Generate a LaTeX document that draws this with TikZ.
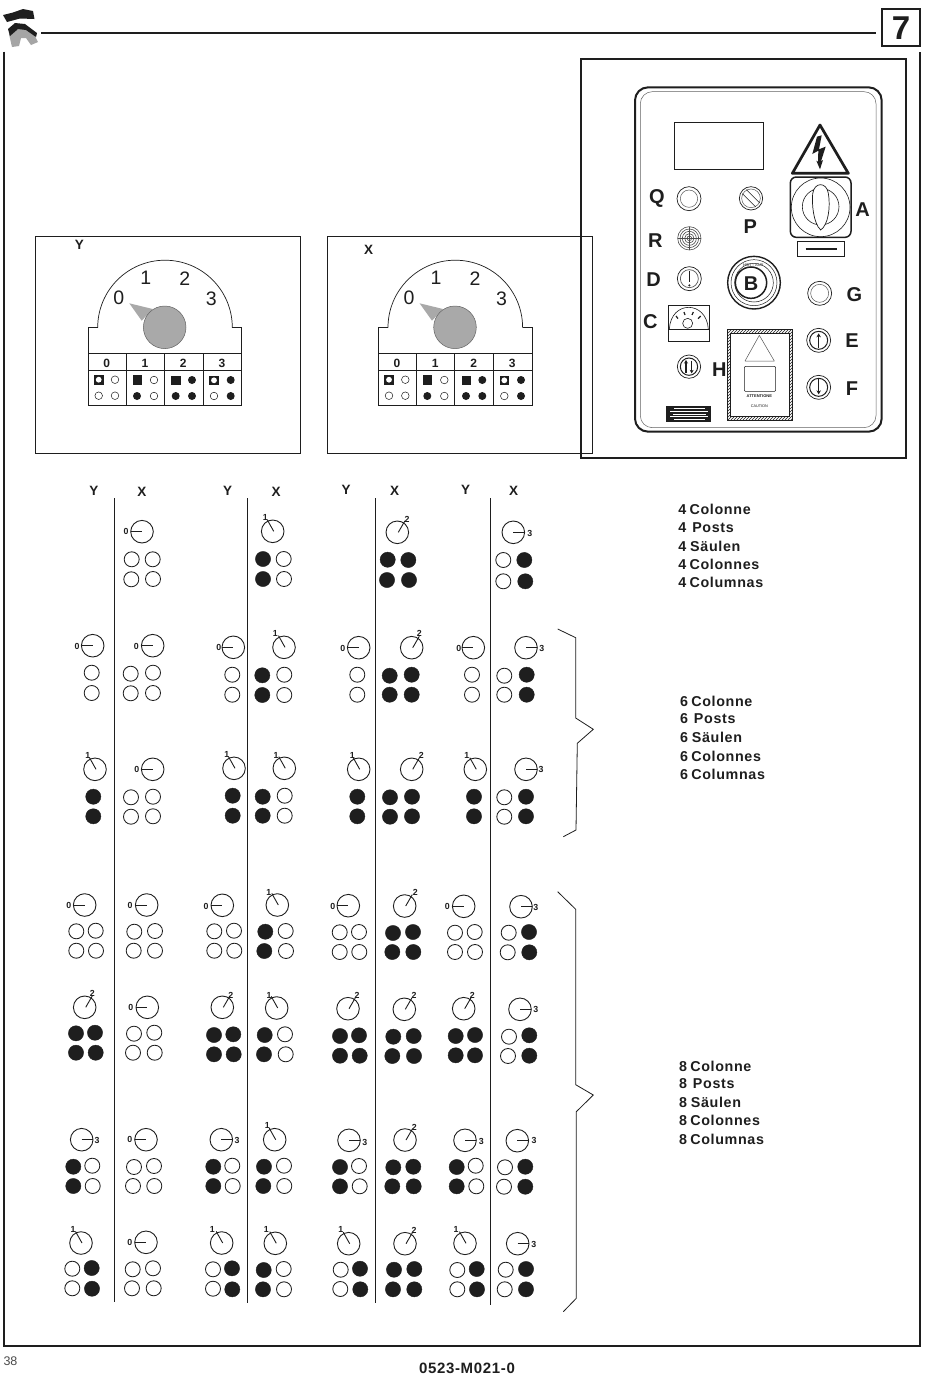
\documentclass[tikz,border=0pt]{standalone}
\usepackage{fontspec}
\setmainfont{Liberation Sans}
\newfontfamily\tracked[LetterSpace=4.5]{Liberation Sans}
\usetikzlibrary{patterns,arrows.meta}
\definecolor{ink}{HTML}{1E1E1E}
\definecolor{knobgray}{HTML}{A9A9A9}
\newcounter{nn}
\newcommand{\fs}[1]{\fontsize{#1}{#1}\selectfont}
\tikzset{
  x=1pt,y=-1pt,
  every node/.style={inner sep=0pt,outer sep=0pt,text=ink,anchor=center},
  thinline/.style={draw=ink,line width=0.9pt},
  heavy/.style={draw=ink,line width=2pt},
  opencirc/.style={draw=ink,line width=0.85pt,fill=white},
  fullcirc/.style={draw=ink,line width=0.4pt,fill=ink},
  dialring/.style={draw=ink,line width=0.9pt,fill=white},
  dialhand/.style={draw=ink,line width=0.9pt},
  dialnum/.style={font=\fs{8.8}\bfseries},
  head/.style={font=\fs{13.5}\bfseries},
  keyletter/.style={font=\fs{20}\bfseries,yshift=-0.8pt},
  langtext/.style={anchor=west,font=\tracked\fs{14.3}\bfseries},
  btnout/.style={draw=ink,line width=0.7pt,fill=white},
  btnin/.style={draw=ink!75,line width=0.5pt},
  brace/.style={draw=ink,line width=0.8pt,line join=miter},
  divider/.style={draw=ink,line width=1.2pt},
  bigdigit/.style={font=\fs{19.5}},
  tabdigit/.style={font=\fs{12}\bfseries},
}
% circles
\newcommand{\cfull}[2]{\fill[fullcirc] (#1,#2) circle (7.6pt);}
\newcommand{\cempty}[2]{\draw[opencirc] (#1,#2) circle (7.5pt);}
% dial: cx cy position lx ly
\newcommand{\dialm}[5]{%
  \draw[dialring] (#1,#2) circle (11.3pt);
  \ifcase#3\relax
    \draw[dialhand] ([xshift=-11.3pt]#1,#2) -- ++(11.3,0);
  \or
    \draw[dialhand] ([xshift=1pt]#1,#2) -- ++(-6.5,-11.6);
  \or
    \draw[dialhand] ([xshift=1pt]#1,#2) -- ++(6.6,-11.4);
  \or
    \draw[dialhand] (#1,#2) -- ++(11.3,0);
  \fi
  \stepcounter{nn}\node[dialnum] (d\thenn) at (#4,#5) {#3};
}
% switch panel contents
\newcommand{\minicell}[3]{%
  \ifcase#3\relax
    \draw[draw=ink,line width=0.5pt,fill=white] (#1,#2) circle (3.8pt);
  \or
    \fill[ink] (#1,#2) circle (4pt);
  \or
    \fill[ink] (#1-4.8,#2-4.8) rectangle ++(9.6,9.6);
  \or
    \fill[ink] (#1-4.8,#2-4.8) rectangle ++(9.6,9.6);
    \fill[white] (#1,#2) circle (2.9pt);
  \fi
}
\newcommand{\swpanel}{%
  \draw[draw=ink,line width=0.7pt] (97.7,327.5) arc[start angle=180,end angle=360,radius=67.3];
  \draw[thinline,line width=0.8pt] (97.7,327.5) -- (88.3,327.5) -- (88.3,405.3) -- (241.7,405.3) -- (241.7,327.5) -- (232.3,327.5);
  \draw[thinline,line width=0.8pt] (88.3,353.3) -- (241.7,353.3) (88.3,370.7) -- (241.7,370.7);
  \draw[thinline,line width=0.8pt] (126.3,353.3) -- (126.3,405.3) (164.3,353.3) -- (164.3,405.3) (203.3,353.3) -- (203.3,405.3);
  \fill[knobgray] (129.3,303.3) -- (152.7,309) -- (141.7,320.7) -- cycle;
  \draw[draw=ink!70,line width=0.5pt,fill=knobgray] (164.7,327.3) circle (21.3pt);
  \stepcounter{nn}\node[bigdigit] (p\thenn) at (118.7,298) {0};
  \stepcounter{nn}\node[bigdigit] (p\thenn) at (145.7,277.7) {1};
  \stepcounter{nn}\node[bigdigit] (p\thenn) at (184.7,278.3) {2};
  \stepcounter{nn}\node[bigdigit] (p\thenn) at (211.3,299) {3};
  \stepcounter{nn}\node[tabdigit] (p\thenn) at (106.7,363.3) {0};
  \stepcounter{nn}\node[tabdigit] (p\thenn) at (145,363.3) {1};
  \stepcounter{nn}\node[tabdigit] (p\thenn) at (183.3,363.3) {2};
  \stepcounter{nn}\node[tabdigit] (p\thenn) at (222,363.3) {3};
  \minicell{98.7}{379.7}{3}\minicell{115}{379.7}{0}\minicell{98.7}{395.7}{0}\minicell{115}{395.7}{0}
  \minicell{137.3}{380}{2}\minicell{154}{380}{0}\minicell{137}{396}{1}\minicell{154}{396}{0}
  \minicell{176}{380.3}{2}\minicell{192}{380}{1}\minicell{175.7}{396}{1}\minicell{192}{396}{1}
  \minicell{214}{380.3}{3}\minicell{230.7}{380}{1}\minicell{214}{396}{0}\minicell{230.7}{396}{1}
}
\newcommand{\langblock}[7]{%
  \stepcounter{nn}\node[langtext] (t\thenn) at (#2,#3) {#1\hspace{3.4pt}Colonne};
  \stepcounter{nn}\node[langtext] (t\thenn) at (#2,#4) {#1\hspace{6pt}Posts};
  \stepcounter{nn}\node[langtext] (t\thenn) at (#2,#5) {#1\hspace{4pt}Säulen};
  \stepcounter{nn}\node[langtext] (t\thenn) at (#2,#6) {#1\hspace{3.4pt}Colonnes};
  \stepcounter{nn}\node[langtext] (t\thenn) at (#2,#7) {#1\hspace{3.4pt}Columnas};
}
\begin{document}
\begin{tikzpicture}
\useasboundingbox (0,0) rectangle (950,1379);
\fill[white] (0,0) rectangle (950,1379);

% ---- page furniture
\fill[ink] (3,15) -- (13,12.5) -- (23,9) -- (33,11) -- (34.5,19) -- (20,18.5) -- (7,22) -- cycle;
\fill[ink!40] (9,34) -- (20,28) -- (32,30) -- (38,42) -- (31,45) -- (26,38) -- (21,38) -- (19,46) -- (12,47) -- cycle;
\fill[ink] (8,29) -- (15,23) -- (25,24) -- (37,33) -- (36,37) -- (26,30) -- (18,29) -- (10,36) -- cycle;
\draw[heavy] (41,33) -- (875.5,33);
\draw[heavy] (882,8.5) rectangle (920.3,45.5);
\node[font=\fs{33}\bfseries] (pagenum) at (901,28) {7};
\draw[heavy] (4,51.5) -- (4,1345.5) -- (919.7,1345.5) -- (919.7,52);
\node[font=\fs{12.5},anchor=west,text=ink!80] (pageno) at (3.5,1361) {38};
\node[font=\tracked\fs{15}\bfseries] (docno) at (467,1368) {0523-M021-0};

% ---- panels
\draw[thinline] (35.3,236.3) rectangle (300.3,453.3);
\node[head] (ypanel) at (79.3,244.5) {Y};
\swpanel
\draw[thinline] (327,236.3) rectangle (592.4,453.3);
\node[head] (xpanel) at (368.5,250) {X};
\begin{scope}[shift={(290.3,0)}]
\swpanel
\end{scope}

% ---- control box (coordinates of a 3x enlargement)
\begin{scope}[shift={(580,50)},x=0.33333pt,y=-0.33333pt]
\draw[heavy] (3,28) rectangle (979,1224);
\draw[draw=ink,line width=2pt,rounded corners=13pt] (165,112) rectangle (905,1145);
\draw[draw=ink!70,line width=0.5pt,rounded corners=12pt] (181,125) rectangle (888,1133);
\draw[draw=ink,line width=0.7pt] (283,217) rectangle (550,358);
% warning sign
\draw[draw=ink,line width=2.7pt,line join=round] (720,225) -- (805,370) -- (637,370) -- cycle;
\fill[ink] (711,260) -- (697,312) -- (715,302) -- (714,335) -- (709,332) -- (720,358) -- (729,330) -- (723,334) -- (737,290) -- (717,298) -- (725,256) -- cycle;
% main switch
\draw[draw=ink,line width=1.5pt,rounded corners=6pt,fill=white] (631,381) rectangle (813,562);
\draw[draw=ink,line width=0.6pt] (722,472) circle (88);
\draw[draw=ink,line width=0.6pt] (722,470) circle (55);
\draw[draw=ink,line width=0.7pt,fill=white] (722,540) .. controls (700,520) and (695,460) .. (698,432) .. controls (702,395) and (740,395) .. (745,430) .. controls (752,470) and (745,525) .. (722,540) -- cycle;
\draw[draw=ink,line width=0.7pt] (652,574) rectangle (793,619);
\draw[draw=ink,line width=1.6pt] (677,597) -- (771,597);
% pilot lights and buttons
\draw[btnout] (327,446) circle (36); \draw[btnin] (327,446) circle (26);
\draw[btnout] (513,445) circle (35); \draw[btnin] (513,445) circle (28);
\draw[draw=ink,line width=0.5pt] (487,431) -- (527,471) (499,419) -- (539,459);
\foreach \r in {35,28,21,14,7} {\draw[draw=ink!80,line width=0.6pt] (328,565) circle (\r);}
\draw[draw=ink!80,line width=0.5pt] (293,565) -- (363,565) (328,530) -- (328,600);
\draw[btnout] (328,686) circle (36); \draw[btnin,line width=0.7pt] (328,686) circle (27);
\draw[draw=ink,line width=0.7pt] (328,664) -- (328,695);
\fill[ink] (328,706) circle (3.5);
\draw[draw=ink,line width=1.4pt] (522,698) circle (79);
\draw[draw=ink,line width=0.5pt] (522,698) circle (69);
\draw[draw=ink,line width=0.5pt] (522,698) circle (58);
\draw[draw=ink,line width=1.5pt] (513,698) circle (47);
\node[font=\fs{4}\bfseries,text=ink!70] (bring) at (520,646) {HOT - AUX};
\draw[btnout] (719,730) circle (36); \draw[btnin] (719,730) circle (27);
\draw[btnout] (716,871) circle (36); \draw[draw=ink,line width=1pt] (716,871) circle (27);
\draw[draw=ink,line width=1.5pt,-{Stealth[length=4pt,width=4.5pt]}] (716,895) -- (716,850);
\draw[btnout] (716,1012) circle (36); \draw[draw=ink,line width=1pt] (716,1012) circle (27);
\draw[draw=ink,line width=1.5pt,-{Stealth[length=4pt,width=4.5pt]}] (716,988) -- (716,1033);
\draw[btnout] (327,950) circle (35); \draw[draw=ink,line width=1pt] (327,950) circle (26);
\draw[draw=ink,line width=1.3pt,-{Stealth[length=3.5pt,width=4pt]}] (318,968) -- (318,930);
\draw[draw=ink,line width=1.3pt,-{Stealth[length=3.5pt,width=4pt]}] (335,932) -- (335,970);
% gauge
\draw[draw=ink,line width=0.7pt] (265,767) rectangle (388,874);
\draw[draw=ink,line width=0.7pt] (265,838) -- (388,838);
\draw[draw=ink,line width=0.6pt] (268,838) .. controls (272,750) and (380,750) .. (385,838);
\draw[draw=ink,line width=0.6pt] (323,820) circle (15);
\draw[draw=ink,line width=1.2pt] (288,798) -- (294,806) (312,786) -- (315,795) (340,786) -- (336,795) (362,798) -- (354,806);
% label frame
\fill[pattern=north east lines,pattern color=ink,even odd rule] (442,838) rectangle (637,1112) (452,850) rectangle (628,1100);
\draw[draw=ink,line width=0.8pt] (442,838) rectangle (637,1112);
\draw[draw=ink,line width=0.8pt] (452,850) rectangle (628,1100);
\draw[draw=ink!75,line width=0.5pt,line join=round] (538,856) -- (583,933) -- (495,933) -- cycle;
\draw[draw=ink,line width=0.5pt,rounded corners=1pt] (493,949) rectangle (587,1024);
\node[font=\fs{4}\bfseries] (attn) at (538,1039) {ATTENTIONE};
\node[font=\fs{3.8}] (caut) at (538,1069) {CAUTION};
% plate
\fill[ink] (258,1068) rectangle (392,1116);
\draw[draw=white,line width=0.6pt] (282,1076) -- (375,1076) (270,1084) -- (385,1084) (280,1092) -- (378,1092) (270,1100) -- (385,1100) (282,1108) -- (375,1108);
% letters
\node[keyletter,yshift=-1pt] (kQ) at (231,441) {Q};
\node[keyletter] (kP) at (511,527) {P};
\node[keyletter,yshift=0.8pt] (kA) at (848,478) {A};
\node[keyletter] (kR) at (226,570) {R};
\node[keyletter] (kD) at (221,685) {D};
\node[keyletter] (kB) at (513,698) {B};
\node[keyletter] (kG) at (823,732) {G};
\node[keyletter] (kC) at (211,813) {C};
\node[keyletter] (kE) at (816,870) {E};
\node[keyletter] (kH) at (418,955) {H};
\node[keyletter] (kF) at (816,1013) {F};
\end{scope}

% ---- column heads and dividers
\node[head] (h1) at (94,491) {Y};
\node[head] (h2) at (142,492) {X};
\node[head] (h3) at (227.5,491) {Y};
\node[head] (h4) at (276,492) {X};
\node[head] (h5) at (346,490) {Y};
\node[head] (h6) at (394.5,491) {X};
\node[head] (h7) at (465.5,490) {Y};
\node[head] (h8) at (513.5,491) {X};
\draw[divider] (114.3,498) -- (114.3,1302);
\draw[divider] (247.5,498) -- (247.5,1303);
\draw[divider] (375.5,498) -- (375.5,1303);
\draw[divider] (490.4,498) -- (490.4,1305);

% ---- 4 posts
\dialm{142}{531.7}{0}{126}{531.7}
\cempty{131.7}{559.3}\cempty{152.7}{559.3}\cempty{131.3}{579.3}\cempty{153}{579}
\dialm{272.7}{531.3}{1}{265.3}{517.3}
\cfull{263}{559}\cempty{283.7}{559}\cfull{263}{579}\cempty{284}{579}
\dialm{397.3}{532.3}{2}{407}{519}
\cfull{387.7}{559.7}\cfull{408.3}{560}\cfull{387}{580}\cfull{409}{580}
\dialm{513.3}{532.3}{3}{529.7}{533}
\cempty{503.3}{560}\cfull{524.3}{560}\cempty{503.3}{581.3}\cfull{525.3}{581.3}

% ---- 6 posts, row 1
\dialm{92.7}{645.7}{0}{77}{646.7}
\cempty{91.7}{672.7}\cempty{91.7}{693}
\dialm{152.7}{645.7}{0}{136.3}{646}
\cempty{130.7}{673.7}\cempty{153}{672.7}\cempty{130.7}{693.3}\cempty{153}{693}
\dialm{233.3}{647.3}{0}{218.7}{647.3}
\cempty{232.3}{674.7}\cempty{232.3}{694.7}
\dialm{284}{647.3}{1}{275.3}{633.3}
\cfull{262.3}{675.3}\cempty{284.3}{674.7}\cfull{262.3}{695}\cempty{284.3}{695}
\dialm{358.7}{647.7}{0}{342.7}{648.3}
\cempty{357.3}{674.7}\cempty{357.3}{694.7}
\dialm{411.7}{647.7}{2}{419.3}{633.3}
\cfull{389.7}{675.7}\cfull{411.7}{674.7}\cfull{389.7}{694.7}\cfull{411.7}{694.7}
\dialm{473.3}{647.7}{0}{458.7}{648.7}
\cempty{472}{674.7}\cempty{472}{694.7}
\dialm{526}{647.7}{3}{541.7}{648.7}
\cempty{504.3}{675.7}\cfull{526.7}{674.7}\cempty{504.3}{694.7}\cfull{526.7}{694.7}

% ---- 6 posts, row 2
\dialm{95}{769.3}{1}{87.7}{755}
\cfull{93.3}{796.7}\cfull{93.3}{816.3}
\dialm{152.7}{769.3}{0}{136.7}{769.3}
\cempty{131}{797.3}\cempty{153}{796.7}\cempty{131}{816.7}\cempty{153}{816.3}
\dialm{234}{768.3}{1}{226.7}{754}
\cfull{232.7}{795.7}\cfull{232.7}{815.7}
\dialm{284.3}{768.3}{1}{276}{755}
\cfull{262.7}{796.7}\cempty{284.7}{795.7}\cfull{262.7}{815.7}\cempty{284.7}{815.7}
\dialm{358.7}{769.3}{1}{352.3}{755}
\cfull{357.3}{796.7}\cfull{357.3}{816.3}
\dialm{411.7}{769.3}{2}{421.3}{755.7}
\cfull{390}{797.3}\cfull{412}{796.7}\cfull{390}{816.7}\cfull{412}{816.3}
\dialm{475.3}{769.3}{1}{466.7}{755.7}
\cfull{474}{796.7}\cfull{474}{816.3}
\dialm{526}{769.3}{3}{541}{769.3}
\cempty{504.3}{797.3}\cfull{526}{796.7}\cempty{504.3}{816.7}\cfull{526}{816.3}

% ---- 8 posts, row A
\dialm{84.7}{905}{0}{68.7}{905.3}
\cempty{76.3}{931.3}\cempty{95.7}{930.7}\cempty{76.3}{950.7}\cempty{96}{950.7}
\dialm{146.7}{905}{0}{130}{905}
\cempty{134.3}{931.7}\cempty{155}{931}\cempty{133.7}{950.7}\cempty{155}{950.7}
\dialm{222.3}{905.3}{0}{206}{906.3}
\cempty{214.3}{931.3}\cempty{234}{930.7}\cempty{214.3}{950.7}\cempty{234.3}{950.7}
\dialm{277.3}{905}{1}{268.7}{892.3}
\cfull{265.3}{931.7}\cempty{285.7}{931}\cfull{264.3}{951}\cempty{286}{951}
\dialm{348.3}{905.7}{0}{332.7}{906}
\cempty{339.7}{932.3}\cempty{359}{932}\cempty{339.7}{952}\cempty{359.3}{952}
\dialm{404.7}{906}{2}{415.3}{892}
\cfull{393}{933}\cfull{413}{932}\cfull{392.3}{952}\cfull{413.3}{952}
\dialm{463.7}{906.3}{0}{447.3}{906.7}
\cempty{455}{932.7}\cempty{474.7}{932}\cempty{455}{952}\cempty{475}{952}
\dialm{521}{906.7}{3}{535.7}{907}
\cempty{508.7}{932.7}\cfull{529}{932}\cempty{507.7}{952.3}\cfull{529.3}{952.3}

% ---- 8 posts, row B
\dialm{84.7}{1007.3}{2}{92.3}{993}
\cfull{76}{1033.3}\cfull{95}{1032.7}\cfull{76}{1052.7}\cfull{95.7}{1052.7}
\dialm{147.3}{1007.3}{0}{130.7}{1007.7}
\cempty{134}{1033.7}\cempty{154.3}{1032.7}\cempty{133}{1052.7}\cempty{154.7}{1052.7}
\dialm{222.3}{1007.3}{2}{230.7}{995}
\cfull{214}{1035}\cfull{233.3}{1034.3}\cfull{214}{1054.3}\cfull{233.7}{1054.3}
\dialm{276.7}{1008}{1}{269}{995}
\cfull{264.7}{1035}\cempty{285}{1034.3}\cfull{264}{1054.3}\cempty{285.7}{1054.3}
\dialm{348}{1008.7}{2}{357}{995.7}
\cfull{340}{1036}\cfull{359}{1035.3}\cfull{340}{1055.7}\cfull{359.7}{1055.7}
\dialm{404.3}{1009.3}{2}{414}{995.3}
\cfull{393.3}{1036.7}\cfull{413.7}{1036}\cfull{392.3}{1056}\cfull{414}{1056}
\dialm{463.7}{1008.7}{2}{472.3}{995}
\cfull{455.7}{1036}\cfull{475}{1035}\cfull{455.7}{1055.3}\cfull{475}{1055.3}
\dialm{520}{1009.3}{3}{535.7}{1009.3}
\cempty{509}{1036.7}\cfull{529.3}{1035.3}\cempty{508}{1056}\cfull{529.3}{1055.7}

% ---- 8 posts, row C
\dialm{81.7}{1139.7}{3}{97}{1140}
\cfull{73.3}{1166.7}\cempty{92.3}{1165.7}\cfull{73.3}{1186}\cempty{92.7}{1186}
\dialm{146}{1139.7}{0}{129.7}{1139.7}
\cempty{134}{1167}\cempty{154}{1166}\cempty{133}{1186}\cempty{154.3}{1186}
\dialm{221.3}{1139.7}{3}{237}{1140}
\cfull{213.3}{1166.7}\cempty{232.3}{1165.7}\cfull{213.3}{1186}\cempty{232.7}{1186}
\dialm{274.7}{1139.7}{1}{267.3}{1125.7}
\cfull{264}{1166.7}\cempty{284}{1165.7}\cfull{263.3}{1186}\cempty{284.3}{1186}
\dialm{349}{1140.3}{3}{364.7}{1142}
\cfull{340}{1167}\cempty{359}{1166}\cfull{340}{1186.3}\cempty{359.7}{1186.3}
\dialm{405}{1140}{2}{414.3}{1127}
\cfull{393.3}{1167.3}\cfull{413.3}{1166.7}\cfull{392.3}{1186.3}\cfull{413.7}{1186.3}
\dialm{465}{1140.3}{3}{481.3}{1141.7}
\cfull{456.7}{1167}\cempty{475.7}{1165.7}\cfull{456.7}{1186.3}\cempty{476.3}{1186.3}
\dialm{517.3}{1140.7}{3}{534}{1140.7}
\cempty{505}{1167.3}\cfull{525.3}{1166.7}\cempty{504}{1186.7}\cfull{525.3}{1186.7}

% ---- 8 posts, row D
\dialm{81}{1243}{1}{73}{1229.3}
\cempty{72.3}{1268.7}\cfull{91.7}{1268}\cempty{72.3}{1288.3}\cfull{92}{1288.7}
\dialm{146}{1242.3}{0}{129.7}{1242.3}
\cempty{132.7}{1269.3}\cempty{153}{1268.3}\cempty{132}{1288.3}\cempty{153.7}{1288.3}
\dialm{221.7}{1243}{1}{212.3}{1229.3}
\cempty{213}{1269.3}\cfull{232}{1268.3}\cempty{213}{1288.7}\cfull{232.3}{1289.3}
\dialm{275.3}{1243.3}{1}{266.3}{1229.7}
\cfull{263.7}{1270}\cempty{283.7}{1269}\cfull{263}{1289.3}\cempty{284}{1289.3}
\dialm{348.7}{1243.7}{1}{340.7}{1229.3}
\cempty{340.7}{1269.7}\cfull{360}{1268.7}\cempty{340.3}{1289}\cfull{360.3}{1289.3}
\dialm{405}{1243.7}{2}{414}{1230}
\cfull{394}{1269.7}\cfull{414.3}{1269}\cfull{393}{1289.3}\cfull{414.3}{1289.3}
\dialm{465}{1243.3}{1}{456}{1229}
\cempty{457.3}{1270}\cfull{476.7}{1269}\cempty{457.3}{1289.3}\cfull{477}{1289.3}
\dialm{517.7}{1243.7}{3}{533.7}{1244}
\cempty{505.7}{1269.7}\cfull{526}{1269}\cempty{504.7}{1289.3}\cfull{526}{1289.3}

% ---- braces
\draw[brace] (557.7,629) -- (575.7,637.7) -- (575.7,718) -- (593.3,729.3) -- (577.3,743.3) -- (576,830) -- (563.3,836.7);
\draw[brace] (557.7,891.7) -- (575.7,909.3) -- (575.7,1084.7) -- (593.3,1095) -- (576.3,1111.7) -- (576.3,1298.3) -- (563.3,1311.7);

% ---- language blocks
\langblock{4}{678.3}{509}{528}{546}{564}{582}
\langblock{6}{680}{701}{719}{737}{756}{774}
\langblock{8}{679}{1066}{1084}{1102}{1120}{1139}
\end{tikzpicture}
\end{document}
